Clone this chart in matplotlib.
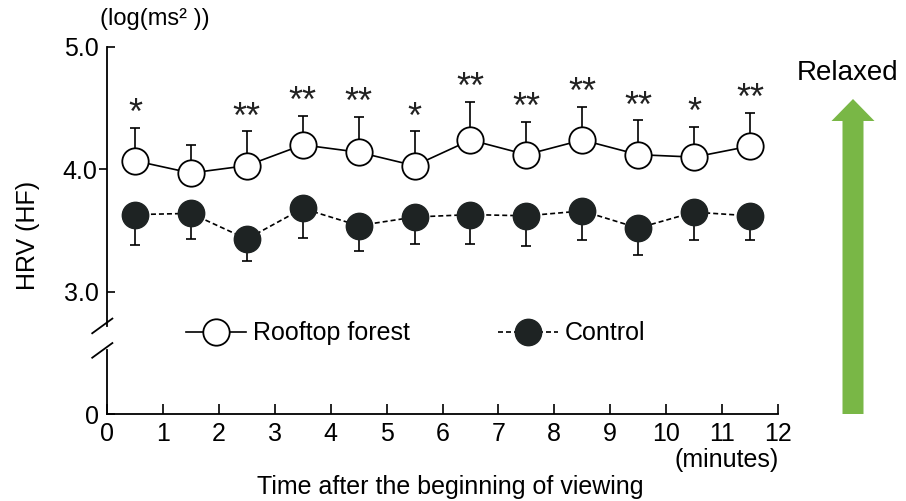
import numpy as np
import matplotlib
matplotlib.use("Agg")
import matplotlib.pyplot as plt
from matplotlib.lines import Line2D
from matplotlib.patches import FancyArrow

plt.rcParams['font.family'] = ['Liberation Sans', 'DejaVu Sans']

# data
minutes = [0.5, 1.5, 2.5, 3.5, 4.5, 5.5, 6.5, 7.5, 8.5, 9.5, 10.5, 11.5]
rooftop = [4.07, 3.97, 4.03, 4.20, 4.14, 4.03, 4.24, 4.12, 4.24, 4.12, 4.10, 4.19]
rooftop_sd = [0.27, 0.23, 0.28, 0.24, 0.29, 0.28, 0.31, 0.27, 0.27, 0.28, 0.25, 0.27]
control = [3.63, 3.64, 3.43, 3.68, 3.54, 3.61, 3.63, 3.62, 3.66, 3.52, 3.65, 3.62]
control_sd = [0.25, 0.21, 0.18, 0.24, 0.21, 0.22, 0.24, 0.25, 0.24, 0.22, 0.23, 0.20]
stars = ['*', '', '**', '**', '**', '*', '**', '**', '**', '**', '*', '**']

xticks = list(range(0, 13))
# the y axis is broken: "0" is drawn at position 2
ytick_pos = [2, 3, 5]
ytick_lab = ['0', '3.0', '5.0']

fs = 18

fig = plt.figure(figsize=(9.06, 5.01), dpi=100)
ax = fig.add_axes([107/906, 1 - 414/501, (778-107)/906, (414-47)/501])
ax.set_xlim(0, 12)
ax.set_ylim(2, 5)

lw = 1.2
# one sided error bars
ax.errorbar(minutes, rooftop, yerr=[np.zeros(12), rooftop_sd], fmt='none',
            ecolor='black', elinewidth=lw, capsize=3.5, capthick=lw, zorder=2)
ax.errorbar(minutes, control, yerr=[control_sd, np.zeros(12)], fmt='none',
            ecolor='black', elinewidth=lw, capsize=3.5, capthick=lw, zorder=2)

ax.plot(minutes, rooftop, '-', color='black', lw=lw, marker='o', ms=19,
        mfc='white', mec='black', mew=1.3, zorder=3)
ax.plot(minutes, control, color='black', lw=lw, dashes=(3, 1.8), marker='o', ms=19,
        mfc='#1e2323', mec='#1e2323', mew=1.0, zorder=3)

for x, y, e, s in zip(minutes, rooftop, rooftop_sd, stars):
    if s:
        ax.annotate(s, (x, y + e), xytext=(0, -3), textcoords='offset points',
                    ha='center', va='bottom', fontsize=26, color='#222222')

# axes styling
for side in ['top', 'right', 'left']:
    ax.spines[side].set_visible(False)
ax.spines['bottom'].set_linewidth(1.3)
ax.set_xticks(xticks)
ax.set_xticklabels([str(t) for t in xticks])
ax.tick_params(axis='x', direction='in', length=7, width=1.2, pad=6, labelsize=fs)
ax.set_yticks(ytick_pos)
ax.set_yticklabels(ytick_lab)
ax.set_yticks([4], minor=True)
ax.set_yticklabels(['4.0'], minor=True)
ax.tick_params(axis='y', which='major', direction='in', length=6, width=1.2, pad=6, labelsize=fs)
ax.tick_params(axis='y', which='minor', direction='out', length=6, width=1.2, pad=1, labelsize=fs)

# broken left spine
yt = ax.get_yaxis_transform()
ax.plot([0, 0], [2, 2.52], color='black', lw=1.3, transform=yt, clip_on=False)
ax.plot([0, 0], [2.72, 5], color='black', lw=1.3, transform=yt, clip_on=False)
for yb in [2.52, 2.72]:
    ax.plot([-0.022, 0.008], [yb - 0.06, yb + 0.06], color='black', lw=1.3,
            transform=yt, clip_on=False)

# legend
h1 = Line2D([], [], color='black', lw=lw, marker='o', ms=19, mfc='white', mec='black', mew=1.3)
h2 = Line2D([], [], color='black', lw=lw, dashes=(3, 1.8), marker='o', ms=19,
            mfc='#1e2323', mec='#1e2323')
ax.legend([h1, h2], ['Rooftop forest', 'Control'], ncol=2, frameon=False, fontsize=fs,
          loc='center left', bbox_to_anchor=(1.41, 2.66), bbox_transform=ax.transData,
          borderpad=0, borderaxespad=0, handlelength=2.4, handletextpad=0.3,
          columnspacing=3.5)

fig.text(100/906, 1 - 19/501, '(log(ms² ))', fontsize=17, va='center', ha='left')
fig.text(28/906, 1 - 235/501, 'HRV (HF)', fontsize=fs, rotation=90, va='center', ha='center')
fig.text(779/906, 1 - 460/501, '(minutes)', fontsize=fs, va='center', ha='right')
fig.text(450/906, 1 - 487/501, 'Time after the beginning of viewing', fontsize=fs,
         va='center', ha='center')
fig.text(848/906, 1 - 73/501, 'Relaxed', fontsize=20, va='center', ha='center')

# green arrow in pixel coordinates
ov = fig.add_axes([0, 0, 1, 1], zorder=-1)
ov.set_xlim(0, 906)
ov.set_ylim(501, 0)
ov.axis('off')
ov.add_patch(FancyArrow(853, 414, 0, -315, width=21, head_width=43, head_length=22,
                        length_includes_head=True, color='#79b746', lw=0))

fig.savefig('out.png', dpi=100)
